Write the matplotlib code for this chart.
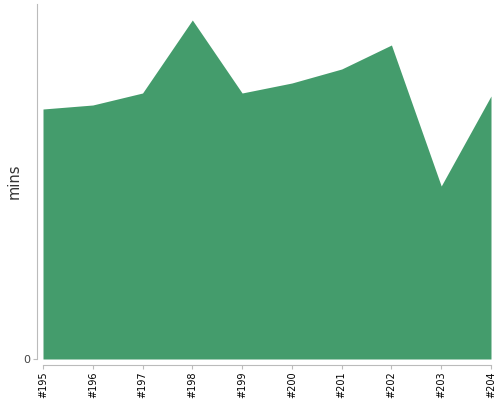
import matplotlib
matplotlib.use("Agg")
from matplotlib import pyplot as plt

# build numbers and their durations (mins)
builds = ["#195", "#196", "#197", "#198", "#199", "#200", "#201", "#202", "#203", "#204"]
durations = [25.0, 25.4, 26.6, 33.9, 26.6, 27.6, 29.0, 31.4, 17.3, 26.3]

fig = plt.figure(figsize=(5, 4), dpi=100)
ax = fig.add_axes([0.086, 0.1025, 0.896, 0.8875])

# offset axes first, set_position resets the tick settings
for side in ["top", "right"]:
    ax.spines[side].set_visible(False)
ax.spines["left"].set_position(("outward", 4))
ax.spines["bottom"].set_position(("outward", 4))
for side in ["left", "bottom"]:
    ax.spines[side].set_color("#bbbbbb")

x = list(range(len(builds)))
ax.fill_between(x, 0, durations, color="#449c6c", linewidth=0)

ax.set_xlim(0, len(builds) - 1)
ax.set_ylim(0, 35.5)

ax.set_xticks(x)
ax.set_xticklabels(builds, rotation=90, fontsize=7, color="black")
ax.set_yticks([0])
ax.set_yticklabels(["0"], fontsize=8, color="#444444")
ax.set_ylabel("mins", fontsize=10.5, color="#333333", labelpad=1)
ax.tick_params(axis="both", color="#bbbbbb", length=3, pad=2)

fig.savefig("out.png", dpi=100)
